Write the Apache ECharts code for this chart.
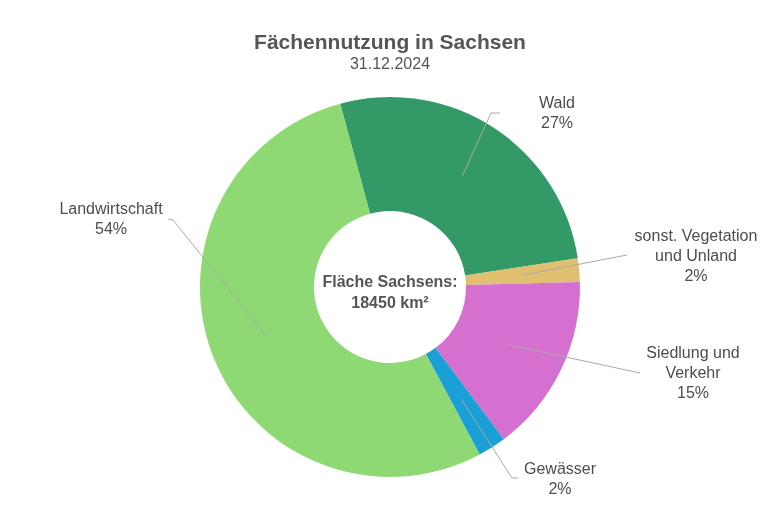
<!DOCTYPE html>
<html>
<head>
<meta charset="utf-8">
<script src="https://cdn.jsdelivr.net/npm/echarts@6/dist/echarts.min.js"></script>
<style>
  html, body { margin: 0; padding: 0; background: #fff; }
  #chart { width: 780px; height: 521px; }
</style>
</head>
<body>
<div id="chart"></div>
<script>
// Flächennutzung Sachsen, Anteile in %
const categories = ['Wald', 'sonst. Vegetation\nund Unland', 'Siedlung und\nVerkehr', 'Gewässer', 'Landwirtschaft'];
const shares = [26.8, 2.0, 15.2, 2.4, 53.6];
const colors = ['#339966', '#e0c070', '#d670d0', '#1aa0d6', '#8fd975'];

const centerX = 390, centerY = 287;
const innerR = 76, outerR = 190;
const lineStartR = 133;
const startAngle = 105.2;

// Beschriftungen: Position (Mitte) und Knick-/Endpunkt der Linie
const labelSpots = [
    { pos: [557, 114], bend: [491, 113], end: [500, 113] },
    { pos: [696, 257], bend: [627, 255], end: [627, 255] },
    { pos: [693, 374], bend: [640, 373], end: [640, 373] },
    { pos: [560, 480], bend: [512, 478], end: [518, 478] },
    { pos: [111, 220], bend: [173, 220], end: [168, 219] }
];

const chart = echarts.init(document.getElementById('chart'));

const pieData = categories.map((name, i) => ({
    name: name,
    value: shares[i],
    itemStyle: { color: colors[i] }
}));

const option = {
    backgroundColor: '#fff',
    title: {
        text: 'Fächennutzung in Sachsen',
        subtext: '31.12.2024',
        left: 'center',
        top: 27,
        itemGap: 2,
        textStyle: {
            fontFamily: 'Liberation Sans',
            fontSize: 21,
            lineHeight: 22,
            fontWeight: 'bold',
            color: '#555'
        },
        subtextStyle: {
            fontFamily: 'Liberation Sans',
            fontSize: 16,
            lineHeight: 18,
            color: '#555'
        }
    },
    graphic: [{
        type: 'text',
        x: centerX,
        y: 293,
        z: 10,
        style: {
            text: 'Fläche Sachsens:\n18450 km²',
            fontFamily: 'Liberation Sans',
            fontSize: 16,
            fontWeight: 'bold',
            lineHeight: 21,
            fill: '#555',
            align: 'center',
            verticalAlign: 'middle'
        }
    }],
    series: [{
        // farbiger Ring
        type: 'pie',
        z: 2,
        center: [centerX, centerY],
        radius: [innerR, outerR],
        startAngle: startAngle,
        clockwise: true,
        animation: false,
        silent: true,
        data: pieData,
        label: { show: false },
        labelLine: { show: false }
    }, {
        // gleiche Daten, unsichtbar, nur für Beschriftung + Linien (oberhalb)
        type: 'pie',
        z: 5,
        center: [centerX, centerY],
        radius: [innerR, outerR],
        startAngle: startAngle,
        clockwise: true,
        avoidLabelOverlap: false,
        percentPrecision: 0,
        animation: false,
        silent: true,
        data: categories.map((name, i) => ({ name: name, value: shares[i] })),
        itemStyle: { color: 'rgba(0,0,0,0)' },
        label: {
            show: true,
            position: 'outside',
            formatter: '{b}\n{d}%',
            fontFamily: 'Liberation Sans',
            fontSize: 16,
            lineHeight: 20,
            color: '#4d4d4d',
            align: 'center'
        },
        labelLine: {
            show: true,
            length: 10,
            length2: 10,
            lineStyle: { color: '#aaa', width: 1 }
        },
        labelLayout: function (params) {
            const spot = labelSpots[params.dataIndex];
            const p0 = params.labelLinePoints[0];
            const k = lineStartR / outerR;
            const start = [centerX + (p0[0] - centerX) * k, centerY + (p0[1] - centerY) * k];
            return {
                x: spot.pos[0],
                y: spot.pos[1],
                align: 'center',
                verticalAlign: 'middle',
                labelLinePoints: [start, spot.bend, spot.end]
            };
        }
    }]
};

chart.setOption(option);
</script>
</body>
</html>
